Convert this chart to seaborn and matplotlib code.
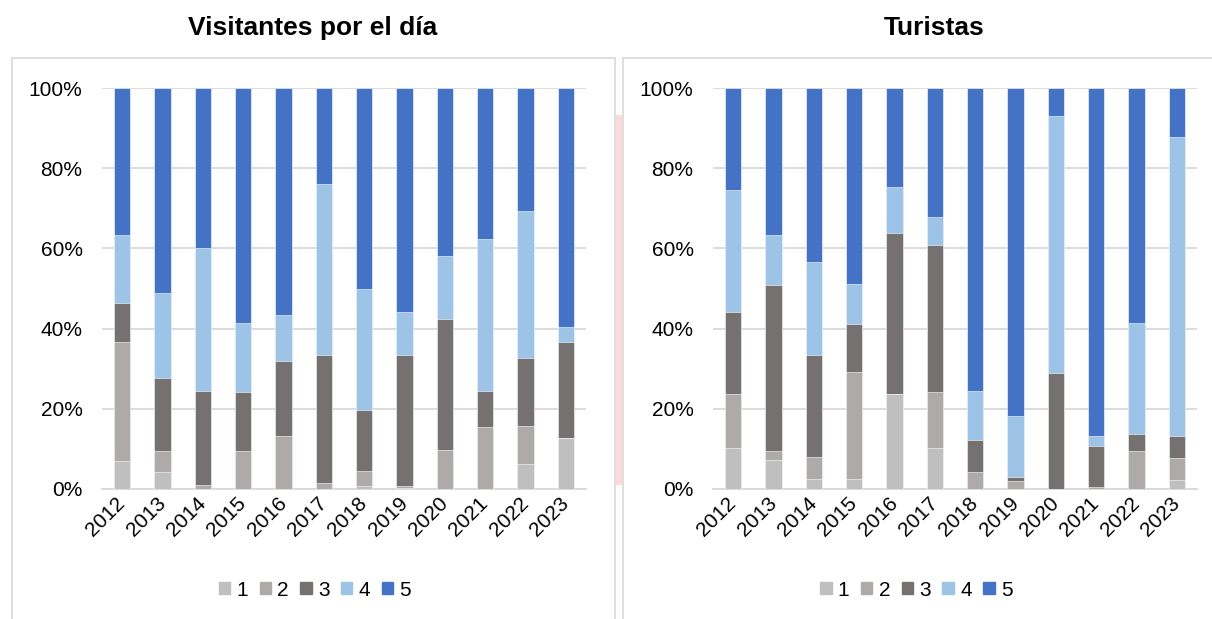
import pandas as pd
import matplotlib
matplotlib.use("Agg")
import matplotlib.pyplot as plt
import seaborn as sns
from matplotlib.patches import Rectangle

years = [str(y) for y in range(2012, 2024)]
levels = ["1", "2", "3", "4", "5"]
colors = ["#bfbfbf", "#aeaaaa", "#767171", "#9dc3e6", "#4472c4"]

# share of each rating (%) per year - day visitors
day_1 = [7.1, 4.2, 0, 0, 0, 0, 0.8, 0.3, 0, 0, 6.3, 12.7]
day_2 = [29.6, 5.4, 1.1, 9.6, 13.1, 1.4, 3.7, 0.5, 9.8, 15.5, 9.5, 0]
day_3 = [9.7, 18.0, 23.3, 14.7, 18.9, 31.9, 15.3, 32.5, 32.5, 9.0, 16.8, 24.0]
day_4 = [16.9, 21.4, 35.7, 17.0, 11.5, 42.8, 30.2, 10.8, 15.7, 37.9, 36.8, 3.8]
day_5 = [36.7, 51.0, 39.9, 58.7, 56.5, 23.9, 50.0, 55.9, 42.0, 37.6, 30.6, 59.5]

# tourists
tur_1 = [10.1, 7.3, 2.6, 2.6, 23.7, 10.1, 0, 0, 0, 0, 0, 2.3]
tur_2 = [13.6, 2.1, 5.5, 26.7, 0, 14.0, 4.2, 1.9, 0, 0.6, 9.6, 5.5]
tur_3 = [20.4, 41.4, 25.3, 11.8, 40.1, 36.7, 7.9, 1.0, 29.0, 10.0, 4.2, 5.5]
tur_4 = [30.5, 12.5, 23.2, 9.9, 11.4, 7.1, 12.3, 15.3, 63.9, 2.6, 27.7, 74.5]
tur_5 = [25.4, 36.7, 43.4, 49.0, 24.8, 32.1, 75.6, 81.8, 7.1, 86.8, 58.5, 12.2]

sns.set_theme(style="white")
plt.rcParams["font.family"] = ["Liberation Sans", "DejaVu Sans"]
plt.rcParams["text.color"] = "black"

fig = plt.figure(figsize=(12.12, 6.19), dpi=100)

# panel frames like the spreadsheet chart boxes
W, H = 1212, 619
def px_rect(x0, y0, x1, y1, **kw):
    fig.patches.append(Rectangle((x0 / W, 1 - y1 / H), (x1 - x0) / W, (y1 - y0) / H,
                                 transform=fig.transFigure, figure=fig, **kw))

px_rect(12, 58, 615, 640, fill=False, edgecolor="#d9d9d9", linewidth=1.2)
px_rect(622.5, 58, 1230, 640, fill=False, edgecolor="#d9d9d9", linewidth=1.2)
px_rect(616, 115, 622, 485, facecolor="#fdd9d9", edgecolor="none")


def draw(ax, series, title, title_x, legend_x):
    df = pd.DataFrame(dict(zip(levels, series)), index=years)
    cum = df.cumsum(axis=1)
    # overlay cumulative bars, tallest first
    for lvl, col in zip(levels[::-1], colors[::-1]):
        sns.barplot(x=cum.index, y=cum[lvl].values, color=col, saturation=1,
                    width=0.4, edgecolor="white", linewidth=0.4, ax=ax, zorder=3)
    ax.set_ylim(0, 100)
    ax.set_xlim(-0.5, 11.5)
    ax.set_yticks(range(0, 101, 20))
    ax.set_yticklabels([f"{v}%" for v in range(0, 101, 20)])
    ax.yaxis.grid(True, color="#d9d9d9", linewidth=1.3, zorder=0)
    ax.set_axisbelow(True)
    for s in ["top", "right", "left"]:
        ax.spines[s].set_visible(False)
    ax.spines["bottom"].set_color("#d9d9d9")
    ax.spines["bottom"].set_linewidth(1.3)
    ax.tick_params(axis="y", length=0, pad=14, labelsize=15, colors="black")
    ax.tick_params(axis="x", length=0, pad=8, labelsize=15, colors="black")
    for lab in ax.get_xticklabels():
        lab.set_rotation(45)
        lab.set_ha("right")
        lab.set_va("center")
        lab.set_rotation_mode("anchor")
    ax.set_xlabel("")
    ax.set_ylabel("")
    fig.text(title_x, 0.954, title, ha="center", va="center",
             fontsize=19, fontweight="bold", color="black")
    handles = [Rectangle((0, 0), 1, 1, color=c) for c in colors]
    ax.legend(handles, levels, ncol=5, frameon=False, loc="center",
              bbox_to_anchor=(legend_x, -0.252), fontsize=15,
              handlelength=0.55, handleheight=0.55, handletextpad=0.3,
              columnspacing=0.55)


ax1 = fig.add_axes([102 / W, 1 - 489 / H, 484 / W, 401 / H])
ax2 = fig.add_axes([713 / W, 1 - 489 / H, 484 / W, 401 / H])

draw(ax1, [day_1, day_2, day_3, day_4, day_5], "Visitantes por el día", 312.5 / W, 0.44)
draw(ax2, [tur_1, tur_2, tur_3, tur_4, tur_5], "Turistas", 934 / W, 0.42)

fig.savefig("out.png", dpi=100)
